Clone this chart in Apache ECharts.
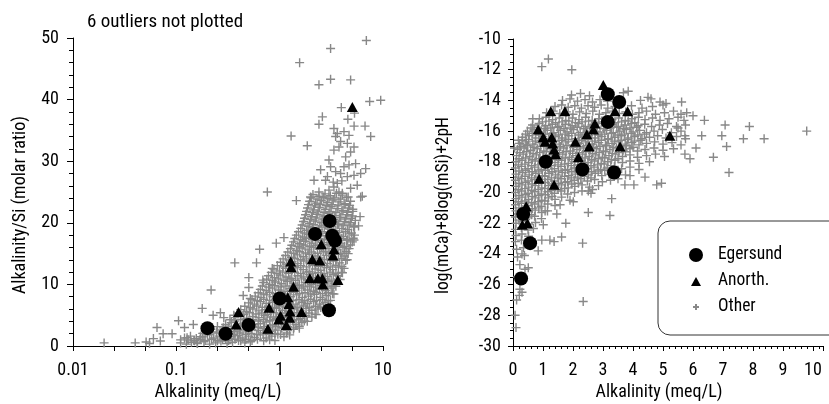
<!DOCTYPE html>
<html>
<head>
<meta charset="utf-8">
<title>Alkalinity plots</title>
<script src="https://cdn.jsdelivr.net/npm/echarts@6/dist/echarts.min.js"></script>
<style>
  html, body { margin: 0; padding: 0; background: #fff; }
  #chart { width: 829px; height: 404px; }
</style>
</head>
<body>
<div id="chart"></div>
<script>
// ---- data ----
// left panel: x = alkalinity (meq/L, log axis), y = alkalinity/Si
const egersundLeft = [[0.2,2.9],[0.3,2.0],[0.5,3.4],[1.0,7.7],[2.2,18.2],[3.05,20.3],[3.23,17.9],[3.43,17.1],[3.0,5.8]];
const anorthLeft = [[0.40,5.5],[0.38,3.5],[0.77,2.8],[0.79,6.2],[0.98,4.3],[1.02,4.9],[1.16,3.4],[1.20,7.9],[1.23,6.8],[1.26,5.6],[1.25,4.6],[1.28,13.7],[1.29,12.8],[1.36,9.6],[1.63,5.5],[1.96,11.0],[2.07,14.1],[2.34,11.0],[2.44,13.9],[2.53,16.5],[2.59,11.0],[2.62,10.0],[3.28,14.7],[3.35,15.7],[3.66,10.7],[5.05,38.8]];
const otherLeft = [
  [0.11,0.5],[0.125,0.3],[0.14,0.6],[0.16,0.4],[0.185,0.7],[0.21,0.3],[0.24,0.5],[0.27,0.8],[0.31,0.4],[0.35,0.6],[0.40,0.9],[0.46,0.5],[0.52,0.7],
  [0.12,1.3],[0.137,1.6],[0.156,1.2],[0.178,1.5],[0.2,1.8],[0.23,1.3],[0.26,1.6],[0.3,1.2],[0.34,1.5],[0.39,1.7],[0.44,1.3],[0.5,1.6],[0.57,1.4],[0.65,1.8],[0.74,1.3],[0.84,1.6],[0.96,1.9],[1.1,1.5],[1.25,1.8],
  [0.19,2.4],[0.215,2.7],[0.245,2.3],[0.28,2.6],[0.32,2.8],[0.365,2.4],[0.415,2.6],[0.47,2.3],[0.54,2.7],[0.62,2.5],[0.7,2.8],[0.8,2.4],[0.91,2.6],[1.04,2.9],[1.19,2.5],[1.36,2.7],[1.55,2.9],
  [0.3,3.5],[0.34,3.8],[0.39,3.4],[0.445,3.7],[0.5,3.9],[0.57,3.5],[0.65,3.6],[0.74,3.9],[0.85,3.4],[0.97,3.7],[1.1,3.6],[1.26,3.9],[1.44,3.5],[1.64,3.8],[1.85,4.0],
  [0.37,4.6],[0.42,4.9],[0.48,4.5],[0.55,4.8],[0.63,4.6],[0.72,5.0],[0.82,4.7],[0.93,4.5],[1.06,4.9],[1.21,4.6],[1.38,4.8],[1.58,4.5],[1.8,4.9],[2.05,4.7],[2.25,5.1],
  [0.42,5.9],[0.48,5.6],[0.55,6.0],[0.63,5.7],[0.72,5.9],[0.82,5.6],[0.93,6.1],[1.06,5.8],[1.21,5.6],[1.38,6.0],[1.58,5.7],[1.8,6.1],[2.05,5.8],[2.35,6.0],[2.65,6.3],
  [0.5,7.0],[0.57,6.8],[0.65,7.2],[0.74,6.9],[0.85,7.1],[0.97,6.7],[1.1,7.0],[1.26,7.3],[1.44,6.8],[1.64,7.1],[1.87,6.9],[2.13,7.2],[2.43,6.8],[2.75,7.1],[3.1,7.4],
  [0.58,8.1],[0.66,7.9],[0.75,8.3],[0.86,8.0],[0.98,7.8],[1.12,8.2],[1.28,8.0],[1.46,8.3],[1.66,7.9],[1.9,8.1],[2.17,8.4],[2.47,7.9],[2.82,8.2],[3.25,8.5],
  [0.65,9.2],[0.74,9.0],[0.85,9.4],[0.97,9.1],[1.1,8.9],[1.26,9.3],[1.44,9.0],[1.64,9.4],[1.87,9.1],[2.13,8.9],[2.43,9.3],[2.77,9.0],[3.15,9.4],[3.5,9.7],
  [0.7,10.3],[0.8,10.0],[0.91,10.4],[1.04,10.1],[1.19,10.5],[1.36,10.2],[1.55,9.9],[1.77,10.3],[2.02,10.0],[2.3,10.4],[2.62,10.1],[3.0,10.5],[3.4,10.2],[3.85,10.8],
  [0.78,11.4],[0.89,11.1],[1.01,11.5],[1.15,11.2],[1.31,11.0],[1.5,11.4],[1.71,11.2],[1.95,11.6],[2.22,11.1],[2.53,11.5],[2.89,11.3],[3.3,11.6],[3.7,11.4],[4.05,11.9],
  [0.88,12.5],[1.0,12.2],[1.14,12.6],[1.3,12.3],[1.48,12.7],[1.69,12.4],[1.93,12.1],[2.2,12.5],[2.5,12.3],[2.85,12.7],[3.25,12.4],[3.7,12.8],[4.2,12.6],
  [1.02,13.6],[1.16,13.3],[1.32,13.7],[1.5,13.4],[1.71,13.8],[1.95,13.5],[2.23,13.2],[2.54,13.6],[2.9,13.4],[3.3,13.8],[3.8,13.5],[4.35,13.9],
  [1.14,14.7],[1.3,14.4],[1.48,14.8],[1.69,14.5],[1.93,14.9],[2.2,14.6],[2.5,14.3],[2.85,14.7],[3.25,14.5],[3.7,14.9],[4.2,14.6],[4.6,15.0],
  [1.27,15.8],[1.45,15.5],[1.65,15.9],[1.88,15.6],[2.14,16.0],[2.44,15.7],[2.78,15.4],[3.17,15.8],[3.6,15.6],[4.1,16.0],[4.7,15.8],
  [1.36,16.9],[1.55,16.6],[1.77,17.0],[2.02,16.7],[2.3,17.1],[2.62,16.8],[3.0,16.5],[3.4,16.9],[3.9,16.7],[4.45,17.1],[5.05,16.9],
  [1.45,18.0],[1.66,17.7],[1.89,18.1],[2.15,17.8],[2.45,18.2],[2.8,17.9],[3.2,17.6],[3.65,18.0],[4.15,17.8],[4.7,18.2],[5.3,18.0],
  [1.6,19.1],[1.82,18.8],[2.08,19.2],[2.37,18.9],[2.7,19.3],[3.08,19.0],[3.5,18.7],[4.0,19.1],[4.55,18.9],[5.2,19.3],
  [1.7,20.2],[1.94,19.9],[2.21,20.3],[2.52,20.0],[2.87,20.4],[3.27,20.1],[3.73,19.8],[4.25,20.2],[4.85,20.0],[5.4,20.4],
  [1.78,21.3],[2.03,21.0],[2.31,21.4],[2.63,21.1],[3.0,21.5],[3.42,21.2],[3.9,20.9],[4.45,21.3],[5.05,21.1],
  [1.86,22.4],[2.12,22.1],[2.42,22.5],[2.76,22.2],[3.15,22.6],[3.6,22.3],[4.1,22.0],[4.65,22.4],[5.1,22.2],
  [1.95,23.5],[2.22,23.2],[2.53,23.6],[2.89,23.3],[3.3,23.7],[3.75,23.4],[4.3,23.1],[4.85,23.5],
  [2.1,24.6],[2.4,24.3],[2.75,24.7],[3.1,24.4],[3.55,24.8],[4.05,24.5],[4.6,24.2],
  // scattered ones
  [0.02,0.5],[0.04,0.5],[0.051,0.65],[0.065,3.0],[0.0745,2.0],[0.091,2.0],[0.06,1.2],[0.055,0.4],[0.07,0.8],[0.105,4.1],[0.12,3.0],[0.146,3.5],
  [0.178,6.1],[0.217,9.1],[0.227,5.0],[0.368,13.5],[0.597,13.5],[0.503,11.1],[0.503,9.5],[0.64,15.7],[0.927,16.7],[1.1,17.6],[0.848,12.6],
  [0.688,10.7],[0.52,7.7],[0.444,8.2],[0.288,4.6],[0.267,5.4],[0.36,5.0],[0.127,1.35],[0.11,1.0],[0.148,0.9],[0.171,1.5],[0.159,0.5],
  [0.76,25.0],[1.45,23.6],[6.3,24.3],[5.24,17.2],[6.0,21.0],[5.8,19.5],
  [6.9,49.6],[3.11,48.3],[1.56,46.0],[3.11,43.3],[2.4,42.4],[4.86,43.2],[7.43,39.7],[9.5,39.9],[3.95,38.7],[2.59,37.2],[2.4,36.0],[1.29,34.1],
  [1.85,32.5],[7.6,34.0],[6.7,35.7],[5.25,35.7],[5.3,37.8],[4.57,36.8],[6.8,28.8],[6.08,24.2],[3.35,35.3],[3.61,34.5],[4.19,34.8],[3.48,34.0],
  [3.89,33.2],[4.52,32.9],[4.69,34.2],[5.24,32.3],[4.86,31.5],[3.35,31.8],[3.75,32.3],[4.35,30.7],[5.43,29.6],[3.0,30.2],[3.11,29.1],[3.48,28.3],
  [3.89,28.0],[4.69,29.4],[4.19,29.1],[2.49,28.6],[2.78,26.9],[3.61,26.4],[4.52,27.5],[5.24,27.7],[6.08,28.0],[2.15,26.9],[2.4,25.0],[3.0,25.3],
  [3.75,25.0],[3.35,25.8],[4.04,24.8],[4.86,25.6],[5.63,26.1],[1.99,24.2],[2.68,24.2],[2.9,27.5],[3.3,26.6],[4.0,26.8]
];
// the solid core of the left cloud, between the rows above
const otherLeftCore = [
  [0.13,1.0],[0.15,0.85],[0.17,1.05],[0.19,0.9],[0.22,1.1],[0.25,0.85],[0.28,1.0],[0.32,0.9],[0.37,1.1],[0.42,0.85],[0.47,1.05],[0.54,0.9],[0.61,1.1],[0.7,0.85],[0.8,1.0],[0.9,0.9],
  [0.18,2.05],[0.21,1.85],[0.245,2.1],[0.28,1.9],[0.32,2.05],[0.36,1.85],[0.41,2.1],[0.47,1.9],[0.53,2.05],[0.6,1.85],[0.69,2.1],[0.79,1.9],[0.9,2.05],[1.02,1.85],[1.17,2.1],
  [0.25,3.15],[0.285,2.95],[0.32,3.2],[0.37,3.0],[0.42,3.15],[0.48,2.95],[0.55,3.2],[0.62,3.0],[0.71,3.15],[0.81,2.95],[0.92,3.2],[1.05,3.0],[1.2,3.15],[1.37,2.95],[1.55,3.2],
  [0.33,4.25],[0.37,4.05],[0.42,4.3],[0.48,4.1],[0.55,4.25],[0.62,4.05],[0.7,4.3],[0.8,4.1],[0.91,4.25],[1.03,4.05],[1.17,4.3],[1.33,4.1],[1.52,4.25],[1.73,4.05],
  [0.4,5.35],[0.45,5.15],[0.51,5.4],[0.59,5.2],[0.67,5.35],[0.76,5.15],[0.87,5.4],[0.99,5.2],[1.13,5.35],[1.29,5.15],[1.47,5.4],[1.68,5.2],[1.92,5.35],[2.2,5.15],
  [0.46,6.45],[0.52,6.25],[0.6,6.5],[0.68,6.3],[0.78,6.45],[0.89,6.25],[1.0,6.5],[1.15,6.3],[1.31,6.45],[1.5,6.25],[1.7,6.5],[1.95,6.3],[2.22,6.45],[2.5,6.25],
  [0.54,7.55],[0.61,7.35],[0.7,7.6],[0.8,7.4],[0.91,7.55],[1.04,7.35],[1.18,7.6],[1.35,7.4],[1.54,7.55],[1.75,7.35],[2.0,7.6],[2.28,7.4],[2.6,7.55],[2.95,7.35],
  [0.62,8.65],[0.7,8.45],[0.8,8.7],[0.91,8.5],[1.04,8.65],[1.19,8.45],[1.36,8.7],[1.55,8.5],[1.76,8.65],[2.0,8.45],[2.28,8.7],[2.6,8.5],[2.96,8.65],[3.35,8.45],
  [0.68,9.75],[0.78,9.55],[0.89,9.8],[1.01,9.6],[1.15,9.75],[1.31,9.55],[1.5,9.8],[1.71,9.6],[1.95,9.75],[2.22,9.55],[2.53,9.8],[2.88,9.6],[3.28,9.75],
  [0.75,10.85],[0.85,10.65],[0.97,10.9],[1.1,10.7],[1.26,10.85],[1.43,10.65],[1.63,10.9],[1.86,10.7],[2.12,10.85],[2.42,10.65],[2.76,10.9],[3.15,10.7],[3.58,10.85],
  [0.83,11.95],[0.94,11.75],[1.07,12.0],[1.22,11.8],[1.4,11.95],[1.6,11.75],[1.82,12.0],[2.07,11.8],[2.36,11.95],[2.69,11.75],[3.07,12.0],[3.5,11.8],[3.95,11.95],
  [0.95,13.05],[1.08,12.85],[1.23,13.1],[1.4,12.9],[1.6,13.05],[1.82,12.85],[2.08,13.1],[2.37,12.9],[2.7,13.05],[3.08,12.85],[3.5,13.1],[4.0,12.9],
  [1.08,14.15],[1.23,13.95],[1.4,14.2],[1.6,14.0],[1.82,14.15],[2.08,13.95],[2.37,14.2],[2.7,14.0],[3.08,14.15],[3.5,13.95],[4.0,14.2],[4.5,14.0],
  [1.2,15.25],[1.37,15.05],[1.56,15.3],[1.78,15.1],[2.03,15.25],[2.32,15.05],[2.64,15.3],[3.0,15.1],[3.42,15.25],[3.9,15.05],[4.4,15.3],
  [1.31,16.35],[1.5,16.15],[1.71,16.4],[1.95,16.2],[2.22,16.35],[2.53,16.15],[2.88,16.4],[3.28,16.2],[3.75,16.35],[4.25,16.15],[4.85,16.4],
  [1.4,17.45],[1.6,17.25],[1.82,17.5],[2.08,17.3],[2.37,17.45],[2.7,17.25],[3.08,17.5],[3.5,17.3],[4.0,17.45],[4.55,17.25],[5.15,17.5],
  [1.52,18.55],[1.73,18.35],[1.98,18.6],[2.25,18.4],[2.57,18.55],[2.93,18.35],[3.34,18.6],[3.8,18.4],[4.35,18.55],[4.95,18.35],
  [1.65,19.65],[1.88,19.45],[2.14,19.7],[2.44,19.5],[2.78,19.65],[3.17,19.45],[3.62,19.7],[4.12,19.5],[4.7,19.65],[5.3,19.45],
  [1.74,20.75],[1.98,20.55],[2.26,20.8],[2.57,20.6],[2.93,20.75],[3.34,20.55],[3.8,20.8],[4.35,20.6],[4.95,20.75],
  [1.82,21.85],[2.07,21.65],[2.36,21.9],[2.69,21.7],[3.07,21.85],[3.5,21.65],[4.0,21.9],[4.55,21.7],[5.1,21.85],
  [1.9,22.95],[2.17,22.75],[2.47,23.0],[2.82,22.8],[3.22,22.95],[3.67,22.75],[4.2,23.0],[4.75,22.8],
  [2.02,24.05],[2.3,23.85],[2.63,24.1],[3.0,23.9],[3.42,24.05],[3.9,23.85],[4.45,24.1]
];

// right panel: x = alkalinity (meq/L), y = log(mCa)+8log(mSi)+2pH
const egersundRight = [[3.16,-13.6],[3.54,-14.1],[3.16,-15.4],[1.09,-18.0],[2.31,-18.5],[3.37,-18.7],[0.34,-21.4],[0.57,-23.3],[0.27,-25.6]];
const anorthRight = [[3.01,-13.0],[1.26,-14.7],[1.73,-14.7],[3.4,-14.7],[3.82,-14.7],[0.84,-15.9],[1.01,-16.4],[1.07,-16.7],[1.29,-16.4],[1.32,-16.8],[1.37,-17.2],[1.42,-17.5],[2.73,-15.5],[2.68,-15.9],[2.46,-16.2],[2.08,-16.7],[2.54,-17.0],[3.57,-17.0],[2.18,-17.7],[0.87,-19.1],[1.37,-19.5],[5.23,-16.3],[0.44,-20.9],[0.31,-22.1],[0.48,-22.0]];
const otherRight = [
  [1.95,-13.65],[2.25,-13.55],[2.55,-13.7],
  [1.65,-14.0],[1.9,-13.9],[2.15,-14.05],[2.4,-13.95],[2.65,-14.1],[2.9,-13.95],[3.15,-14.05],[4.25,-14.0],[4.6,-13.9],[4.9,-14.1],
  [1.4,-14.4],[1.62,-14.3],[1.84,-14.45],[2.06,-14.35],[2.28,-14.5],[2.5,-14.35],[2.72,-14.45],[2.94,-14.3],[3.16,-14.5],[3.4,-14.4],[3.95,-14.35],[4.3,-14.5],[4.65,-14.4],[5.0,-14.3],
  [1.12,-14.8],[1.34,-14.7],[1.56,-14.85],[1.78,-14.75],[2.0,-14.9],[2.22,-14.75],[2.44,-14.85],[2.66,-14.7],[2.88,-14.9],[3.1,-14.8],[3.32,-14.7],[3.54,-14.85],[3.76,-14.75],[3.98,-14.9],[4.2,-14.8],[4.45,-14.7],[4.75,-14.9],[5.05,-14.8],[5.35,-14.7],[5.6,-14.9],
  [0.88,-15.2],[1.1,-15.1],[1.32,-15.25],[1.54,-15.15],[1.76,-15.3],[1.98,-15.15],[2.2,-15.25],[2.42,-15.1],[2.64,-15.3],[2.86,-15.2],[3.08,-15.1],[3.3,-15.25],[3.52,-15.15],[3.74,-15.3],[3.96,-15.2],[4.18,-15.1],[4.4,-15.25],[4.65,-15.15],[4.9,-15.3],[5.2,-15.2],[5.5,-15.1],[5.7,-15.3],
  [0.65,-15.6],[0.87,-15.5],[1.09,-15.65],[1.31,-15.55],[1.53,-15.7],[1.75,-15.55],[1.97,-15.65],[2.19,-15.5],[2.41,-15.7],[2.63,-15.6],[2.85,-15.5],[3.07,-15.65],[3.29,-15.55],[3.51,-15.7],[3.73,-15.6],[3.95,-15.5],[4.17,-15.65],[4.39,-15.55],[4.62,-15.7],[4.88,-15.6],[5.15,-15.5],[5.45,-15.7],[5.75,-15.6],
  [0.48,-16.0],[0.7,-15.9],[0.92,-16.05],[1.14,-15.95],[1.36,-16.1],[1.58,-15.95],[1.8,-16.05],[2.02,-15.9],[2.24,-16.1],[2.46,-16.0],[2.68,-15.9],[2.9,-16.05],[3.12,-15.95],[3.34,-16.1],[3.56,-16.0],[3.78,-15.9],[4.0,-16.05],[4.22,-15.95],[4.45,-16.1],[4.7,-16.0],[4.98,-15.9],[5.28,-16.1],[5.6,-16.0],
  [0.32,-16.4],[0.54,-16.3],[0.76,-16.45],[0.98,-16.35],[1.2,-16.5],[1.42,-16.35],[1.64,-16.45],[1.86,-16.3],[2.08,-16.5],[2.3,-16.4],[2.52,-16.3],[2.74,-16.45],[2.96,-16.35],[3.18,-16.5],[3.4,-16.4],[3.62,-16.3],[3.84,-16.45],[4.06,-16.35],[4.3,-16.5],[4.55,-16.4],[4.82,-16.3],[5.1,-16.45],[5.45,-16.35],[5.75,-16.5],
  [0.22,-16.8],[0.44,-16.7],[0.66,-16.85],[0.88,-16.75],[1.1,-16.9],[1.32,-16.75],[1.54,-16.85],[1.76,-16.7],[1.98,-16.9],[2.2,-16.8],[2.42,-16.7],[2.64,-16.85],[2.86,-16.75],[3.08,-16.9],[3.3,-16.8],[3.52,-16.7],[3.74,-16.85],[3.96,-16.75],[4.2,-16.9],[4.45,-16.8],[4.72,-16.7],[5.0,-16.85],[5.3,-16.75],[5.6,-16.9],
  [0.15,-17.2],[0.37,-17.1],[0.59,-17.25],[0.81,-17.15],[1.03,-17.3],[1.25,-17.15],[1.47,-17.25],[1.69,-17.1],[1.91,-17.3],[2.13,-17.2],[2.35,-17.1],[2.57,-17.25],[2.79,-17.15],[3.01,-17.3],[3.23,-17.2],[3.45,-17.1],[3.67,-17.25],[3.9,-17.15],[4.15,-17.3],[4.4,-17.2],[4.7,-17.1],[5.0,-17.25],[5.35,-17.15],
  [0.12,-17.6],[0.34,-17.5],[0.56,-17.65],[0.78,-17.55],[1.0,-17.7],[1.22,-17.55],[1.44,-17.65],[1.66,-17.5],[1.88,-17.7],[2.1,-17.6],[2.32,-17.5],[2.54,-17.65],[2.76,-17.55],[2.98,-17.7],[3.2,-17.6],[3.42,-17.5],[3.65,-17.65],[3.9,-17.55],[4.15,-17.7],[4.45,-17.6],[4.75,-17.5],[5.05,-17.65],
  [0.1,-18.0],[0.3,-17.9],[0.52,-18.05],[0.74,-17.95],[0.96,-18.1],[1.18,-17.95],[1.4,-18.05],[1.62,-17.9],[1.84,-18.1],[2.06,-18.0],[2.28,-17.9],[2.5,-18.05],[2.72,-17.95],[2.94,-18.1],[3.16,-18.0],[3.4,-17.9],[3.65,-18.05],[3.9,-17.95],[4.2,-18.1],[4.55,-18.0],
  [0.08,-18.4],[0.28,-18.3],[0.5,-18.45],[0.72,-18.35],[0.94,-18.5],[1.16,-18.35],[1.38,-18.45],[1.6,-18.3],[1.82,-18.5],[2.04,-18.4],[2.26,-18.3],[2.48,-18.45],[2.7,-18.35],[2.92,-18.5],[3.14,-18.4],[3.38,-18.3],[3.62,-18.45],[3.9,-18.35],[4.2,-18.5],
  [0.1,-18.8],[0.32,-18.7],[0.54,-18.85],[0.76,-18.75],[0.98,-18.9],[1.2,-18.75],[1.42,-18.85],[1.64,-18.7],[1.86,-18.9],[2.08,-18.8],[2.3,-18.7],[2.52,-18.85],[2.74,-18.75],[2.96,-18.9],[3.2,-18.8],[3.45,-18.7],[3.75,-18.85],
  [0.08,-19.2],[0.28,-19.1],[0.5,-19.25],[0.72,-19.15],[0.94,-19.3],[1.16,-19.15],[1.38,-19.25],[1.6,-19.1],[1.82,-19.3],[2.04,-19.2],[2.26,-19.1],[2.48,-19.25],[2.72,-19.15],[2.98,-19.3],[3.25,-19.2],[3.5,-19.1],
  [0.1,-19.6],[0.3,-19.5],[0.52,-19.65],[0.74,-19.55],[0.96,-19.7],[1.18,-19.55],[1.4,-19.65],[1.62,-19.5],[1.84,-19.7],[2.06,-19.6],[2.3,-19.5],[2.55,-19.65],[2.85,-19.55],
  [0.08,-20.0],[0.28,-19.9],[0.5,-20.05],[0.72,-19.95],[0.94,-20.1],[1.16,-19.95],[1.38,-20.05],[1.6,-19.9],[1.82,-20.1],[2.05,-20.0],[2.3,-19.9],[2.6,-20.05],
  [0.1,-20.4],[0.3,-20.3],[0.52,-20.45],[0.74,-20.35],[0.96,-20.5],[1.18,-20.35],[1.4,-20.45],[1.62,-20.3],[1.9,-20.5],
  [0.08,-20.8],[0.28,-20.7],[0.5,-20.85],[0.72,-20.75],[0.94,-20.9],[1.16,-20.75],[1.4,-20.85],
  [0.1,-21.2],[0.3,-21.1],[0.52,-21.25],[0.74,-21.15],[0.96,-21.3],[1.15,-21.2],
  [0.08,-21.6],[0.28,-21.5],[0.5,-21.65],[0.72,-21.55],[0.95,-21.7],
  [0.1,-22.0],[0.3,-21.9],[0.52,-22.05],[0.75,-21.95],
  [0.08,-22.4],[0.28,-22.3],[0.5,-22.45],[0.68,-22.35],
  [0.1,-22.8],[0.3,-22.7],[0.52,-22.85],
  [0.08,-23.2],[0.28,-23.1],[0.48,-23.25],
  [0.12,-23.7],[0.35,-23.6],[0.15,-24.2],[0.38,-24.1],
  // scattered ones
  [0.96,-11.8],[1.18,-11.3],[1.96,-12.0],[3.84,-13.4],[3.68,-13.5],[6.38,-15.3],[6.29,-16.3],[6.96,-16.3],[7.07,-15.6],[7.12,-17.0],
  [7.88,-15.7],[7.68,-16.5],[8.37,-16.5],[9.79,-16.0],[6.68,-17.7],[7.2,-18.7],[5.73,-16.3],[5.79,-14.8],[5.62,-14.1],[5.73,-17.5],
  [5.5,-15.8],[4.79,-19.5],[4.95,-19.4],[3.73,-19.5],[4.03,-19.5],[3.29,-20.4],[2.51,-19.9],[2.65,-19.8],[0.18,-16.6],[0.66,-15.2],
  [0.43,-16.9],[3.23,-21.5],[2.51,-21.3],[2.01,-20.6],[1.76,-22.0],[1.62,-22.9],[1.37,-23.2],[2.32,-23.3],[1.23,-23.1],[0.96,-23.1],
  [0.84,-23.8],[1.01,-22.1],[1.46,-21.4],[1.07,-21.2],[2.34,-27.1],[0.51,-24.9],[0.4,-25.0],[0.23,-24.7],[0.23,-26.3],[0.21,-26.7],
  [0.12,-27.0],[0.07,-28.0],[0.1,-28.8],[0.3,-24.0],[0.15,-25.5],[0.3,-26.5],[0.05,-17.1],[4.5,-13.8],[5.1,-14.2],[6.0,-15.0],
  [6.1,-17.1],[5.9,-17.8],[1.57,-20.8],[4.4,-19.0],[3.9,-18.9]
];
// the solid core of the right cloud, between the rows above
const otherRightCore = [
  [0.98,-15.4],[1.2,-15.35],[1.42,-15.45],[1.64,-15.4],[1.86,-15.35],[2.08,-15.45],[2.3,-15.4],[2.52,-15.35],[2.74,-15.45],[2.96,-15.4],[3.18,-15.35],[3.4,-15.45],[3.62,-15.4],[3.84,-15.35],[4.06,-15.45],
  [0.6,-15.8],[0.82,-15.75],[1.04,-15.85],[1.26,-15.8],[1.48,-15.75],[1.7,-15.85],[1.92,-15.8],[2.14,-15.75],[2.36,-15.85],[2.58,-15.8],[2.8,-15.75],[3.02,-15.85],[3.24,-15.8],[3.46,-15.75],[3.68,-15.85],[3.9,-15.8],[4.12,-15.75],
  [0.42,-16.2],[0.64,-16.15],[0.86,-16.25],[1.08,-16.2],[1.3,-16.15],[1.52,-16.25],[1.74,-16.2],[1.96,-16.15],[2.18,-16.25],[2.4,-16.2],[2.62,-16.15],[2.84,-16.25],[3.06,-16.2],[3.28,-16.15],[3.5,-16.25],[3.72,-16.2],[3.94,-16.15],[4.16,-16.25],[4.38,-16.2],
  [0.3,-16.6],[0.52,-16.55],[0.74,-16.65],[0.96,-16.6],[1.18,-16.55],[1.4,-16.65],[1.62,-16.6],[1.84,-16.55],[2.06,-16.65],[2.28,-16.6],[2.5,-16.55],[2.72,-16.65],[2.94,-16.6],[3.16,-16.55],[3.38,-16.65],[3.6,-16.6],[3.82,-16.55],[4.04,-16.65],[4.26,-16.6],
  [0.26,-17.0],[0.48,-16.95],[0.7,-17.05],[0.92,-17.0],[1.14,-16.95],[1.36,-17.05],[1.58,-17.0],[1.8,-16.95],[2.02,-17.05],[2.24,-17.0],[2.46,-16.95],[2.68,-17.05],[2.9,-17.0],[3.12,-16.95],[3.34,-17.05],[3.56,-17.0],[3.78,-16.95],[4.0,-17.05],
  [0.23,-17.4],[0.45,-17.35],[0.67,-17.45],[0.89,-17.4],[1.11,-17.35],[1.33,-17.45],[1.55,-17.4],[1.77,-17.35],[1.99,-17.45],[2.21,-17.4],[2.43,-17.35],[2.65,-17.45],[2.87,-17.4],[3.09,-17.35],[3.31,-17.45],[3.53,-17.4],[3.75,-17.35],
  [0.2,-17.8],[0.42,-17.75],[0.64,-17.85],[0.86,-17.8],[1.08,-17.75],[1.3,-17.85],[1.52,-17.8],[1.74,-17.75],[1.96,-17.85],[2.18,-17.8],[2.4,-17.75],[2.62,-17.85],[2.84,-17.8],[3.06,-17.75],[3.28,-17.85],[3.5,-17.8],
  [0.18,-18.2],[0.4,-18.15],[0.62,-18.25],[0.84,-18.2],[1.06,-18.15],[1.28,-18.25],[1.5,-18.2],[1.72,-18.15],[1.94,-18.25],[2.16,-18.2],[2.38,-18.15],[2.6,-18.25],[2.82,-18.2],[3.04,-18.15],[3.26,-18.25],
  [0.2,-18.6],[0.42,-18.55],[0.64,-18.65],[0.86,-18.6],[1.08,-18.55],[1.3,-18.65],[1.52,-18.6],[1.74,-18.55],[1.96,-18.65],[2.18,-18.6],[2.4,-18.55],[2.62,-18.65],[2.84,-18.6],[3.06,-18.55],
  [0.18,-19.0],[0.4,-18.95],[0.62,-19.05],[0.84,-19.0],[1.06,-18.95],[1.28,-19.05],[1.5,-19.0],[1.72,-18.95],[1.94,-19.05],[2.16,-19.0],[2.38,-18.95],[2.6,-19.05],
  [0.2,-19.4],[0.42,-19.35],[0.64,-19.45],[0.86,-19.4],[1.08,-19.35],[1.3,-19.45],[1.52,-19.4],[1.74,-19.35],[1.96,-19.45],[2.18,-19.4],
  [0.18,-19.8],[0.4,-19.75],[0.62,-19.85],[0.84,-19.8],[1.06,-19.75],[1.28,-19.85],[1.5,-19.8],[1.72,-19.75],
  [0.2,-20.2],[0.42,-20.15],[0.64,-20.25],[0.86,-20.2],[1.08,-20.15],[1.3,-20.25],
  [0.18,-20.6],[0.4,-20.55],[0.62,-20.65],[0.84,-20.6],[1.06,-20.55],
  [0.2,-21.0],[0.42,-20.95],[0.64,-21.05],[0.86,-21.0],
  [0.18,-21.4],[0.4,-21.35],[0.62,-21.45],
  [0.2,-21.8],[0.42,-21.75]
];

// axis ticks
const leftXTicks = [0.01, 0.025, 0.05, 0.1, 0.25, 0.5, 1, 2.5, 5, 10];
const leftXLabels = [0.01, 0.1, 1, 10];

const FONT = "'Roboto Condensed','Noto Sans Condensed','Open Sans Condensed','DejaVu Sans Condensed',sans-serif";
const GREY = "#888";
const PLUS = "path://M5,0L5,10M0,5L10,5";
const TRI = "path://M0,10L5,0L10,10Z";

const chart = echarts.init(document.getElementById("chart"), null, { renderer: "canvas" });

function axisBase() {
  return {
    axisLine: { onZero: false, lineStyle: { color: "#000", width: 1 } },
    axisTick: { length: 5, lineStyle: { color: "#000" } },
    minorTick: { show: true, length: 3, lineStyle: { color: "#000" } },
    splitLine: { show: false },
    minorSplitLine: { show: false },
    axisLabel: { color: "#000", fontSize: 18, fontFamily: FONT },
    nameTextStyle: { color: "#000", fontSize: 18, fontFamily: FONT },
    nameLocation: "middle"
  };
}

const lx = axisBase();
Object.assign(lx, {
  type: "log", gridIndex: 0, logBase: 10, min: 0.01, max: 10,
  name: "Alkalinity (meq/L)", nameGap: 36,
  minorTick: { show: false }
});
lx.axisTick = { length: 5, customValues: leftXTicks, lineStyle: { color: "#000" } };
lx.axisLabel = Object.assign({}, lx.axisLabel, { customValues: leftXLabels, margin: 15 });
lx.nameTextStyle = Object.assign({}, lx.nameTextStyle, { padding: [0, 20, 0, 0] });

const ly = axisBase();
Object.assign(ly, {
  type: "value", gridIndex: 0, min: 0, max: 50, interval: 10,
  name: "Alkalinity/Si (molar ratio)", nameGap: 44
});
ly.axisTick = { length: 6, lineStyle: { color: "#000" } };
ly.minorTick = { show: true, splitNumber: 5, length: 4, lineStyle: { color: "#000" } };
ly.axisLabel = Object.assign({}, ly.axisLabel, { margin: 14 });
ly.nameTextStyle = Object.assign({}, ly.nameTextStyle, { padding: [0, 26, 0, 0] });

const rx = axisBase();
Object.assign(rx, {
  type: "value", gridIndex: 1, min: 0, max: 10.333, interval: 1,
  name: "Alkalinity (meq/L)", nameGap: 36
});
rx.minorTick = { show: true, splitNumber: 5, length: 3, lineStyle: { color: "#000" } };
rx.axisLabel = Object.assign({}, rx.axisLabel, {
  margin: 15,
  formatter: (v) => (Math.abs(v - Math.round(v)) < 1e-6 ? String(Math.round(v)) : "")
});
rx.nameTextStyle = Object.assign({}, rx.nameTextStyle, { padding: [0, 18, 0, 0] });

const ry = axisBase();
Object.assign(ry, {
  type: "value", gridIndex: 1, min: -30, max: -10, interval: 2,
  name: "log(mCa)+8log(mSi)+2pH", nameGap: 60
});
ry.minorTick = { show: true, splitNumber: 4, length: 3, lineStyle: { color: "#000" } };
ry.axisLabel = Object.assign({}, ry.axisLabel, { margin: 12 });
ry.nameTextStyle = Object.assign({}, ry.nameTextStyle, { fontSize: 17.5, padding: [0, 26, 0, 0] });

function scatter(name, data, idx, symbol, size, style, z) {
  return {
    name: name, type: "scatter", xAxisIndex: idx, yAxisIndex: idx,
    data: data, symbol: symbol, symbolSize: size, itemStyle: style,
    z: z, emphasis: { disabled: true }
  };
}

const otherStyle = { color: "transparent", borderColor: GREY, borderWidth: 1.4, opacity: 1 };
const blackStyle = { color: "#000", opacity: 1 };

chart.setOption({
  animation: false,
  title: {
    text: "6 outliers not plotted", left: 87, top: 13, padding: 0,
    textStyle: { fontSize: 19, fontWeight: "normal", color: "#000", fontFamily: FONT }
  },
  grid: [
    { left: 73, top: 38, width: 310, height: 308, outerBoundsMode: "none" },
    { left: 513, top: 39, width: 310, height: 307, outerBoundsMode: "none" }
  ],
  xAxis: [lx, rx],
  yAxis: [ly, ry],
  legend: {
    orient: "vertical", left: 658, top: 221,
    padding: [24, 200, 18, 30],
    itemWidth: 14, itemHeight: 14, itemGap: 6,
    backgroundColor: "#fff",
    borderColor: "#333", borderWidth: 1, borderRadius: 12,
    textStyle: { fontSize: 17.5, fontFamily: FONT, color: "#000", lineHeight: 20, padding: [0, 0, 0, 10] },
    selectedMode: false,
    data: [
      { name: "Egersund", icon: "circle" },
      { name: "Anorth.", icon: "path://M0,0M14,14M2,12L12,12L7,3Z" },
      { name: "Other", icon: "path://M0,0M14,14M7,4L7,10M4,7L10,7" }
    ]
  },
  series: [
    scatter("Other", otherLeft.concat(otherLeftCore), 0, PLUS, 9, otherStyle, 2),
    scatter("Egersund", egersundLeft, 0, "circle", 14, blackStyle, 3),
    scatter("Anorth.", anorthLeft, 0, TRI, [11, 10], blackStyle, 4),
    scatter("Other", otherRight.concat(otherRightCore), 1, PLUS, 9, otherStyle, 2),
    scatter("Egersund", egersundRight, 1, "circle", 14, blackStyle, 3),
    scatter("Anorth.", anorthRight, 1, TRI, [11, 10], blackStyle, 4)
  ]
});
</script>
</body>
</html>
